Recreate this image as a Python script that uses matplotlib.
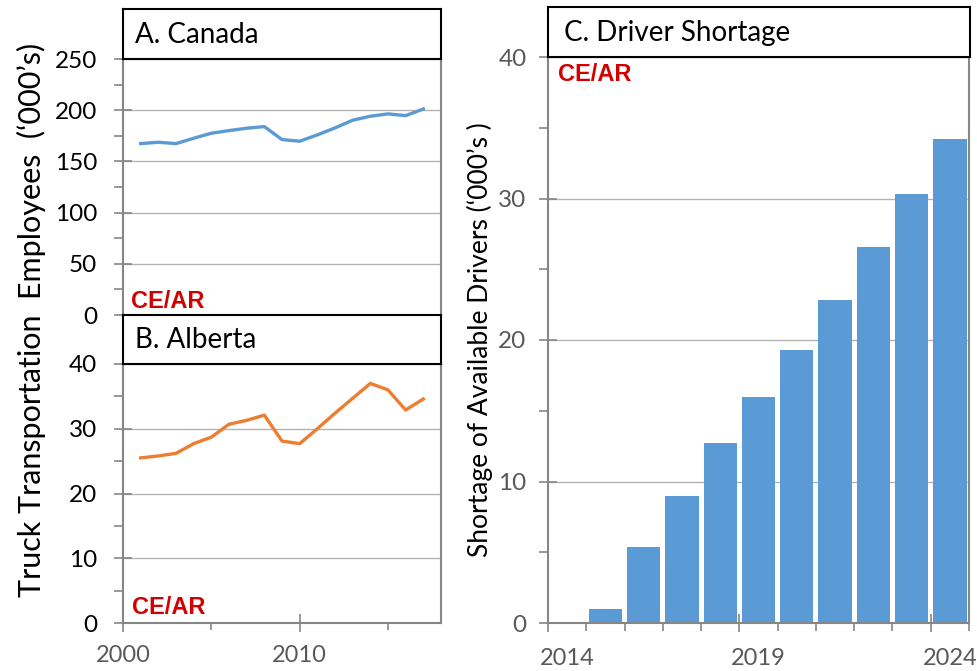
import numpy as np
import matplotlib.pyplot as plt
from matplotlib.ticker import MultipleLocator, FixedLocator, NullFormatter

plt.rcParams['font.family'] = ['Lato', 'DejaVu Sans']

# data
years = list(range(2001, 2018))
canada = [167.4, 168.7, 167.4, 172.6, 177.5, 180.1, 182.4, 184.0, 171.3, 169.7,
          175.9, 182.7, 190.2, 194.1, 196.4, 194.7, 201.2]
alberta = [25.5, 25.8, 26.2, 27.7, 28.7, 30.7, 31.3, 32.1, 28.1, 27.7,
           30.0, 32.4, 34.7, 37.0, 36.0, 32.9, 34.6]
short_years = list(range(2014, 2025))
shortage = [0, 1.0, 5.4, 9.0, 12.7, 16.0, 19.3, 22.8, 26.6, 30.3, 34.2]
short_labels = ['2014', '2019', '2024']

BLUE = '#5B9BD5'
ORANGE = '#ED7D31'
GRID = '#b3b3b3'
SPINE = '#868686'
TXT_GRAY = '#595959'
LOGO_RED = '#d40000'

W, H = 978, 671
fig = plt.figure(figsize=(W / 100, H / 100), dpi=100)


def box(x0, x1, y0, y1):
    # pixel coords (top-left origin) -> figure fraction
    return [x0 / W, 1 - y1 / H, (x1 - x0) / W, (y1 - y0) / H]


def style_axes(ax, pad):
    for s in ['left', 'right', 'bottom']:
        ax.spines[s].set_color(SPINE)
        ax.spines[s].set_linewidth(1.5)
    ax.spines['top'].set_visible(False)
    ax.grid(axis='y', which='major', color=GRID, lw=1)
    ax.set_axisbelow(True)
    ax.tick_params(axis='y', which='major', direction='inout', length=13,
                   width=1.2, color=SPINE, labelsize=17.5, pad=pad)
    ax.tick_params(axis='y', which='minor', direction='out', length=6.5,
                   width=1.2, color=SPINE)


def title_box(rect, text):
    tb = fig.add_axes(rect)
    tb.set_xticks([])
    tb.set_yticks([])
    for s in tb.spines.values():
        s.set_color('black')
        s.set_linewidth(1.5)
    tb.text(0.037, 0.48, text, transform=tb.transAxes, fontsize=20,
            va='center', ha='left', color='black')


def logo(ax, x, y, va):
    ax.text(x, y, 'CE/AR', transform=ax.transAxes, fontsize=17,
            fontweight='bold', color=LOGO_RED, family='Liberation Sans',
            va=va, ha='left')


# ---- A. Canada
axA = fig.add_axes(box(123, 441, 59, 315))
style_axes(axA, 12)
axA.plot(years, canada, color=BLUE, lw=2.4, solid_joinstyle='round')
axA.set_ylim(0, 250)
axA.set_xlim(2000, 2018)
axA.yaxis.set_major_locator(MultipleLocator(50))
axA.yaxis.set_minor_locator(MultipleLocator(25))
axA.set_xticks([])
axA.spines['bottom'].set_visible(False)
logo(axA, 0.025, 0.027, 'baseline')
title_box(box(123, 441, 9, 59), 'A. Canada')

# ---- B. Alberta
axB = fig.add_axes(box(123, 441, 364, 623))
style_axes(axB, 12)
axB.plot(years, alberta, color=ORANGE, lw=2.4, solid_joinstyle='round')
axB.set_ylim(0, 40)
axB.set_xlim(2000, 2018)
axB.yaxis.set_major_locator(MultipleLocator(10))
axB.yaxis.set_minor_locator(MultipleLocator(5))
axB.xaxis.set_major_locator(FixedLocator([2000, 2010]))
axB.xaxis.set_minor_locator(FixedLocator([2005, 2015]))
axB.xaxis.set_minor_formatter(NullFormatter())
axB.tick_params(axis='x', which='major', direction='inout', length=13,
                width=1.2, color=SPINE, labelsize=17, labelcolor=TXT_GRAY, pad=9)
axB.tick_params(axis='x', which='minor', direction='out', length=5,
                width=1.2, color=SPINE)
logo(axB, 0.028, 0.035, 'baseline')
title_box(box(123, 441, 315, 364), 'B. Alberta')

fig.text(31 / W, 1 - 320 / H, 'Truck Transportation  Employees  (\u2018000\u2019s)',
         rotation=90, ha='center', va='center', fontsize=22)

# ---- C. Driver Shortage
axC = fig.add_axes(box(548, 969, 57, 623))
style_axes(axC, 9)
axC.bar(short_years, shortage, width=0.87, color=BLUE, zorder=2)
axC.set_ylim(0, 40)
axC.set_xlim(short_years[0] - 0.5, short_years[-1] + 0.5)
axC.yaxis.set_major_locator(MultipleLocator(10))
axC.yaxis.set_minor_locator(MultipleLocator(5))
axC.tick_params(axis='y', labelcolor=TXT_GRAY)
bounds = [y - 0.5 for y in short_years] + [short_years[-1] + 0.5]
axC.xaxis.set_major_locator(FixedLocator(bounds[0::5]))
axC.xaxis.set_minor_locator(FixedLocator([b for i, b in enumerate(bounds) if i % 5]))
axC.xaxis.set_major_formatter(NullFormatter())
axC.tick_params(axis='x', which='major', direction='inout', length=13,
                width=1.2, color=SPINE)
axC.tick_params(axis='x', which='minor', direction='out', length=6,
                width=1.2, color=SPINE)
sec = axC.secondary_xaxis('bottom')
sec.set_xticks([int(s) for s in short_labels], short_labels)
sec.tick_params(length=0, labelsize=17, labelcolor=TXT_GRAY, pad=18)
sec.spines['bottom'].set_visible(False)
axC.set_ylabel('Shortage of Available Drivers (\u2018000\u2019s )', fontsize=19,
               labelpad=4)
logo(axC, 0.024, 0.957, 'baseline')
title_box(box(548, 970, 7, 57), 'C. Driver Shortage')

fig.savefig('out.png', dpi=100)
